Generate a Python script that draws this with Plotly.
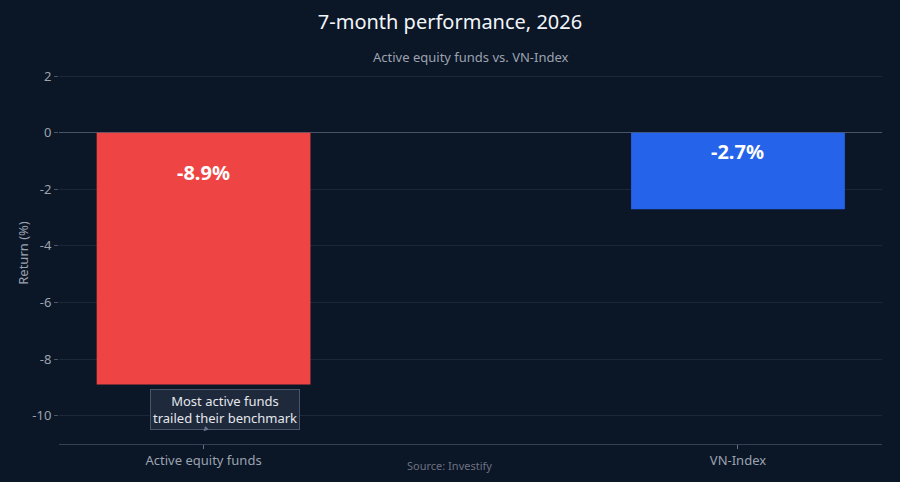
import plotly.graph_objects as go

categories = ["Active equity funds", "VN-Index"]
returns = [-8.9, -2.7]
labels = ["-8.9%", "-2.7%"]
label_y = [-1.42, -0.66]
colors = ["#ef4444", "#2563eb"]
tick_vals = [2, 0, -2, -4, -6, -8, -10]
tick_text = ["2", "0", "-2", "-4", "-6", "-8", "-10"]

BG = "#0b1627"
FONT = "Noto Sans"

fig = go.Figure()
fig.add_trace(go.Bar(
    x=categories, y=returns,
    marker=dict(color=colors, line=dict(width=0)),
    width=0.4,
    hoverinfo="skip",
    showlegend=False,
))

fig.update_layout(
    width=900, height=482,
    paper_bgcolor=BG, plot_bgcolor=BG,
    font=dict(family=FONT, color="#9ca3af", size=13),
    margin=dict(l=59, r=18, t=62, b=38),
    title=dict(text="7-month performance, 2026", x=0.5, xanchor="center",
               yref="container", yanchor="middle",
               font=dict(size=20, color="#f1f5f9", family=FONT)),
    xaxis=dict(range=[-0.2705, 1.2695], showgrid=False, ticks="outside",
               ticklen=4, tickcolor="#64748b", linecolor="#334155",
               showline=True, tickfont=dict(size=13, color="#9ca3af")),
    yaxis=dict(range=[-11, 2.5], tickvals=tick_vals, ticktext=tick_text,
               gridcolor="#1c2838",
               zeroline=True, zerolinecolor="#475569", zerolinewidth=1,
               ticks="outside", ticklen=4, tickcolor="#475569",
               tickfont=dict(size=13, color="#9ca3af"),
               title=dict(text="Return (%)", standoff=0,
                          font=dict(size=13, color="#9ca3af"))),
)
fig.layout.title.y = 1 - 22 / 482

for c, t, yy in zip(categories, labels, label_y):
    fig.add_annotation(text="<b>" + t + "</b>", x=c, y=yy, showarrow=False,
                       font=dict(size=20, color="white", family=FONT))

fig.add_annotation(text="Active equity funds vs. VN-Index", xref="paper", yref="paper",
                   x=0.5, y=1.0, yanchor="bottom", yshift=-6, showarrow=False,
                   font=dict(size=13, color="#9ca3af"))
fig.add_annotation(text="Source: Investify", xref="paper", yref="paper",
                   x=0.475, y=0, yanchor="top", yshift=-12, showarrow=False,
                   font=dict(size=11, color="#6b7280"))
fig.add_annotation(text="Most active funds<br>trailed their benchmark",
                   x=categories[0], y=-10.55, ax=21, ay=-22,
                   showarrow=True, arrowhead=2, arrowsize=1, arrowwidth=1,
                   arrowcolor="#64748b",
                   bgcolor="#1e293b", bordercolor="#475569", borderwidth=1,
                   borderpad=2, font=dict(size=13, color="#e5e7eb"))

fig.write_html("out.html", config={"displayModeBar": False},
               post_script="document.body.style.margin='0';")
